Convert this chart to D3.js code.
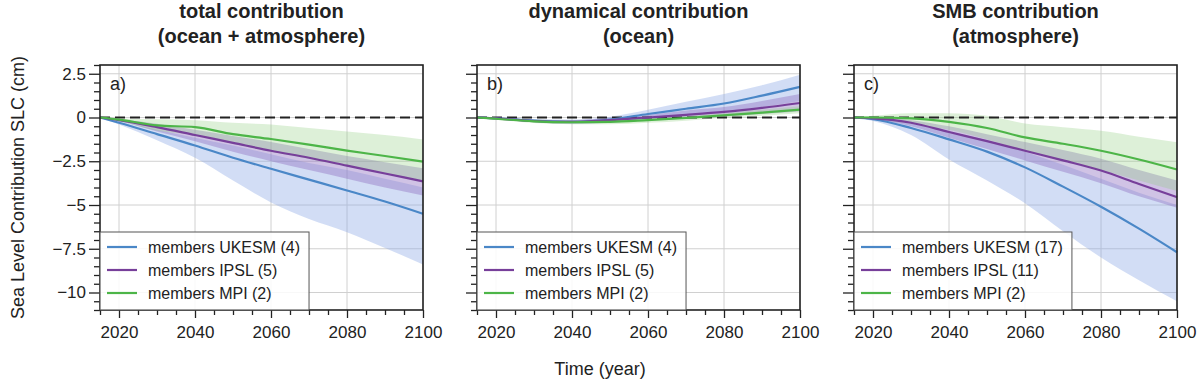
<!DOCTYPE html>
<html lang="en">
<head>
<meta charset="utf-8"/>
<title>Sea level contribution</title>
<script src="https://d3js.org/d3.v7.min.js"></script>
<style>
  body { margin: 0; background: #fff; }
  svg text { font-family: "Liberation Sans", Arial, Helvetica, sans-serif; fill: #222; }
  .grid line { stroke: #d0d0d0; stroke-width: 1; }
  .axis .domain { display: none; }
  .axis line { stroke: #222; stroke-width: 1.3; }
  .axis text { font-size: 17px; }
  .frame { fill: none; stroke: #222; stroke-width: 1.6; }
  .zero { stroke: #222; stroke-width: 2; stroke-dasharray: 10,5; }
</style>
</head>
<body>
<div id="chart"></div>
<script>
// shared time axis (years)
var years = [2015, 2020, 2030, 2040, 2050, 2060, 2070, 2080, 2090, 2100];

// a) total contribution
var totUkesm   = [0, -0.30, -0.95, -1.60, -2.30, -2.93, -3.55, -4.17, -4.80, -5.50];
var totUkesmLo = [0, -0.40, -1.30, -2.30, -3.60, -4.85, -5.80, -6.55, -7.45, -8.40];
var totUkesmHi = [0, -0.20, -0.70, -1.15, -1.60, -2.10, -2.60, -3.00, -3.50, -4.00];
var totIpsl    = [0, -0.15, -0.55, -1.00, -1.45, -1.90, -2.30, -2.75, -3.20, -3.65];
var totIpslLo  = [0, -0.20, -0.80, -1.35, -1.95, -2.50, -3.00, -3.50, -4.00, -4.45];
var totIpslHi  = [0, -0.10, -0.35, -0.70, -1.05, -1.40, -1.80, -2.20, -2.55, -2.90];
var totMpi     = [0, -0.12, -0.45, -0.55, -0.95, -1.23, -1.55, -1.89, -2.20, -2.52];
var totMpiLo   = [0, -0.20, -0.75, -1.00, -1.50, -1.95, -2.35, -2.80, -3.20, -3.60];
var totMpiHi   = [0, -0.05, -0.10, -0.15, -0.30, -0.40, -0.60, -0.80, -1.00, -1.25];

// b) dynamical contribution
var dynUkesm   = [0, -0.05, -0.18, -0.25, -0.12, 0.20, 0.50, 0.80, 1.25, 1.75];
var dynUkesmLo = [0, -0.08, -0.25, -0.35, -0.30, -0.05, 0.15, 0.35, 0.60, 0.95];
var dynUkesmHi = [0, -0.02, -0.10, -0.12, 0.05, 0.45, 0.90, 1.35, 1.85, 2.45];
var dynIpsl    = [0, -0.05, -0.20, -0.25, -0.15, 0.00, 0.15, 0.32, 0.55, 0.83];
var dynIpslLo  = [0, -0.08, -0.28, -0.35, -0.28, -0.15, -0.05, 0.05, 0.20, 0.35];
var dynIpslHi  = [0, -0.02, -0.12, -0.15, -0.02, 0.15, 0.40, 0.60, 0.95, 1.35];
var dynMpi     = [0, -0.07, -0.22, -0.27, -0.25, -0.15, -0.03, 0.13, 0.28, 0.45];
var dynMpiLo   = [0, -0.12, -0.32, -0.38, -0.38, -0.30, -0.18, -0.02, 0.10, 0.25];
var dynMpiHi   = [0, -0.02, -0.12, -0.16, -0.12, -0.02, 0.10, 0.25, 0.45, 0.65];

// c) SMB contribution
var smbUkesm   = [0, -0.10, -0.60, -1.25, -1.95, -2.85, -3.95, -5.10, -6.35, -7.70];
var smbUkesmLo = [0, -0.20, -1.00, -2.40, -3.60, -4.90, -6.50, -8.00, -9.30, -10.50];
var smbUkesmHi = [0, -0.05, -0.35, -0.80, -1.30, -1.95, -2.70, -3.50, -4.30, -5.00];
var smbIpsl    = [0, -0.05, -0.30, -0.83, -1.35, -1.90, -2.45, -3.03, -3.80, -4.55];
var smbIpslLo  = [0, -0.10, -0.50, -1.15, -1.80, -2.45, -3.10, -3.75, -4.50, -5.15];
var smbIpslHi  = [0, 0.00, -0.15, -0.50, -0.95, -1.40, -1.85, -2.35, -3.00, -3.60];
var smbMpi     = [0, 0.00, -0.05, -0.25, -0.60, -1.14, -1.50, -1.90, -2.40, -2.97];
var smbMpiLo   = [0, -0.10, -0.35, -0.70, -1.25, -1.90, -2.45, -3.00, -3.60, -4.20];
var smbMpiHi   = [0, 0.10, 0.25, 0.25, 0.10, -0.34, -0.55, -0.76, -1.10, -1.42];

// ticks
var yMajor = [-10, -7.5, -5, -2.5, 0, 2.5];
var xMajor = [2020, 2040, 2060, 2080, 2100];

var models = ["UKESM", "IPSL", "MPI"];
var lineColor = {UKESM: "#4a87c7", IPSL: "#773f9a", MPI: "#4db548"};
var bandColor = {UKESM: "#8fa9e6", IPSL: "#9070c2", MPI: "#8fcc7e"};
var bandOpacity = {UKESM: 0.4, IPSL: 0.42, MPI: 0.3};

var panels = [
  {t1: "total contribution", t2: "(ocean + atmosphere)", tag: "a)", counts: [4, 5, 2],
   mean: [totUkesm, totIpsl, totMpi], lo: [totUkesmLo, totIpslLo, totMpiLo], hi: [totUkesmHi, totIpslHi, totMpiHi]},
  {t1: "dynamical contribution", t2: "(ocean)", tag: "b)", counts: [4, 5, 2],
   mean: [dynUkesm, dynIpsl, dynMpi], lo: [dynUkesmLo, dynIpslLo, dynMpiLo], hi: [dynUkesmHi, dynIpslHi, dynMpiHi]},
  {t1: "SMB contribution", t2: "(atmosphere)", tag: "c)", counts: [17, 11, 2],
   mean: [smbUkesm, smbIpsl, smbMpi], lo: [smbUkesmLo, smbIpslLo, smbMpiLo], hi: [smbUkesmHi, smbIpslHi, smbMpiHi]}
];

var width = 1200, height = 384;
var lefts = [100, 477, 854], plotTop = 65;
var pw = 323, ph = 245;

var svg = d3.select("#chart").append("svg")
  .attr("width", width)
  .attr("height", height);

var x = d3.scaleLinear().domain([2015, 2100]).range([0, pw]);
var y = d3.scaleLinear().domain([-11, 3]).range([ph, 0]);

var line = d3.line()
  .x(function(d) { return x(d.year); })
  .y(function(d) { return y(d.v); })
  .curve(d3.curveMonotoneX);

var area = d3.area()
  .x(function(d) { return x(d.year); })
  .y0(function(d) { return y(d.lo); })
  .y1(function(d) { return y(d.hi); })
  .curve(d3.curveMonotoneX);

function fmt(d) {
  if (d === 0) return "0";
  return (d < 0 ? "\u2212" : "") + Math.abs(d);
}

var xMinor = d3.range(2015, 2101, 5).filter(function(d) { return xMajor.indexOf(d) < 0; });
var yMinor = d3.range(-11, 3.01, 0.5).filter(function(d) { return yMajor.indexOf(d) < 0; });

panels.forEach(function(p, pi) {
  var g = svg.append("g").attr("transform", "translate(" + lefts[pi] + "," + plotTop + ")");

  // titles
  svg.append("text")
    .attr("x", lefts[pi] + pw / 2).attr("y", 18)
    .attr("text-anchor", "middle")
    .style("font-size", "20px").style("font-weight", "bold")
    .text(p.t1);
  svg.append("text")
    .attr("x", lefts[pi] + pw / 2).attr("y", 43)
    .attr("text-anchor", "middle")
    .style("font-size", "20px").style("font-weight", "bold")
    .text(p.t2);

  // grid
  var grid = g.append("g").attr("class", "grid");
  grid.selectAll(".gx").data(xMajor).enter().append("line")
    .attr("x1", x).attr("x2", x).attr("y1", 0).attr("y2", ph);
  grid.selectAll(".gy").data(yMajor).enter().append("line")
    .attr("y1", y).attr("y2", y).attr("x1", 0).attr("x2", pw);

  // uncertainty bands
  models.forEach(function(m, i) {
    var rows = years.map(function(yr, k) { return {year: yr, lo: p.lo[i][k], hi: p.hi[i][k]}; });
    g.append("path")
      .datum(rows)
      .attr("d", area)
      .attr("fill", bandColor[m])
      .attr("fill-opacity", bandOpacity[m]);
  });

  // zero line
  g.append("line").attr("class", "zero")
    .attr("x1", 0).attr("x2", pw).attr("y1", y(0)).attr("y2", y(0));

  // ensemble means
  models.forEach(function(m, i) {
    var rows = years.map(function(yr, k) { return {year: yr, v: p.mean[i][k]}; });
    g.append("path")
      .datum(rows)
      .attr("d", line)
      .attr("fill", "none")
      .attr("stroke", lineColor[m])
      .attr("stroke-width", 2.2);
  });

  // axes
  g.append("g").attr("class", "axis")
    .attr("transform", "translate(0," + ph + ")")
    .call(d3.axisBottom(x).tickValues(xMajor).tickFormat(d3.format("d")).tickSize(8).tickPadding(8));
  g.append("g").attr("class", "axis")
    .attr("transform", "translate(0," + ph + ")")
    .call(d3.axisBottom(x).tickValues(xMinor).tickFormat("").tickSize(5));
  g.append("g").attr("class", "axis")
    .call(d3.axisLeft(y).tickValues(yMajor).tickFormat(pi === 0 ? fmt : "").tickSize(11).tickPadding(3));
  g.append("g").attr("class", "axis")
    .call(d3.axisLeft(y).tickValues(yMinor).tickFormat("").tickSize(6));

  g.append("rect").attr("class", "frame")
    .attr("width", pw).attr("height", ph);

  // panel tag
  g.append("text")
    .attr("x", 10).attr("y", 25)
    .style("font-size", "18px")
    .text(p.tag);

  // legend
  var leg = g.append("g").attr("transform", "translate(0," + (ph - 78) + ")");
  var box = leg.append("rect")
    .attr("height", 78)
    .attr("fill", "#fff").attr("fill-opacity", 0.85)
    .attr("stroke", "#555").attr("stroke-width", 1);
  var maxW = 0;
  models.forEach(function(m, i) {
    var ry = 15 + i * 23;
    leg.append("line")
      .attr("x1", 7).attr("x2", 37).attr("y1", ry).attr("y2", ry)
      .attr("stroke", lineColor[m]).attr("stroke-width", 2.2);
    var t = leg.append("text")
      .attr("x", 48).attr("y", ry).attr("dy", "0.35em")
      .style("font-size", "16px")
      .text("members " + m + " (" + p.counts[i] + ")");
    maxW = Math.max(maxW, t.node().getComputedTextLength());
  });
  box.attr("width", 48 + maxW + 9);
});

// axis titles
svg.append("text")
  .attr("transform", "translate(24," + (plotTop + ph / 2) + ") rotate(-90)")
  .attr("text-anchor", "middle")
  .style("font-size", "18px")
  .text("Sea Level Contribution SLC (cm)");

svg.append("text")
  .attr("x", 600).attr("y", 375)
  .attr("text-anchor", "middle")
  .style("font-size", "18px")
  .text("Time (year)");
</script>
</body>
</html>
